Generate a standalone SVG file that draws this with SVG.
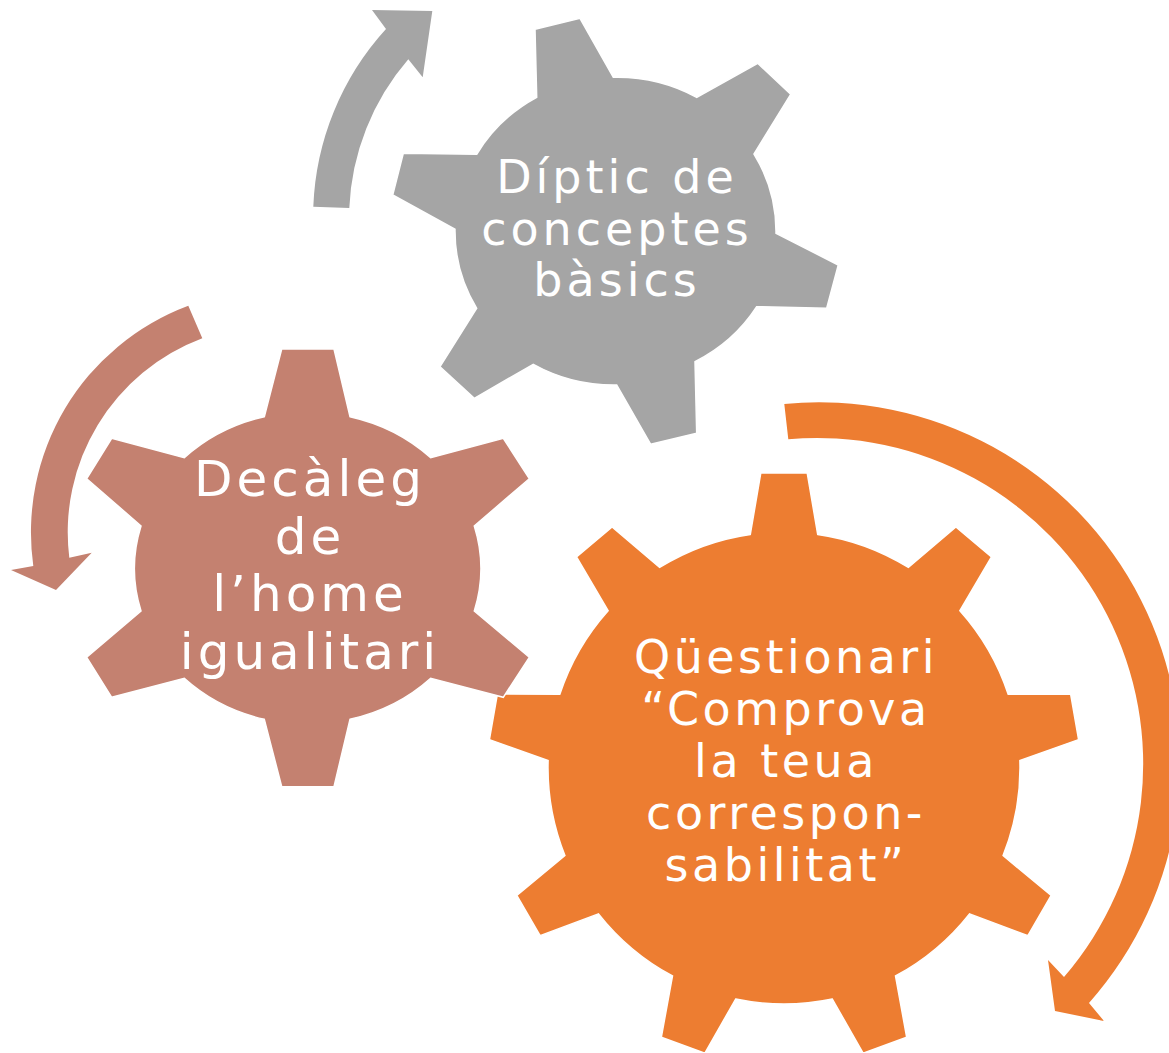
<svg xmlns="http://www.w3.org/2000/svg" width="1169" height="1053" viewBox="0 0 1169 1053">
<style>
.lbl{font-family:"DejaVu Sans","Liberation Sans",sans-serif;fill:#FFFFFF;text-anchor:middle;letter-spacing:3.5px}
.orange{fill:#ED7D31}
.brown{fill:#C48170}
.grey{fill:#A5A5A5}
.gear{stroke:#FFFFFF;stroke-width:1.5;stroke-linejoin:miter}
</style>
<rect width="1169" height="1053" fill="#FFFFFF"/>
<g id="gear-questionari">
<path class="orange gear" d="M 750.3,534.4 L 760.8,472.9 L 807.2,472.9 L 817.7,534.4 A 236 236 0 0 1 908.4,567.4 L 955.9,527.0 L 991.5,556.9 L 959.9,610.7 A 236 236 0 0 1 1008.2,694.3 L 1070.6,693.9 L 1078.6,739.6 L 1019.9,760.6 A 236 236 0 0 1 1003.1,855.6 L 1051.2,895.4 L 1027.9,935.7 L 969.5,913.9 A 236 236 0 0 1 895.5,976.0 L 906.7,1037.3 L 863.1,1053.2 L 832.3,999.0 A 236 236 0 0 1 735.7,999.0 L 704.9,1053.2 L 661.3,1037.3 L 672.5,976.0 A 236 236 0 0 1 598.5,913.9 L 540.1,935.7 L 516.8,895.4 L 564.9,855.6 A 236 236 0 0 1 548.1,760.6 L 489.4,739.6 L 497.4,693.9 L 559.8,694.3 A 236 236 0 0 1 608.1,610.7 L 576.5,556.9 L 612.1,527.0 L 659.6,567.4 A 236 236 0 0 1 750.3,534.4 Z"/>
<text class="lbl" font-size="46"><tspan x="786" y="673">Qüestionari</tspan><tspan x="786" y="725">“Comprova</tspan><tspan x="786" y="777">la teua</tspan><tspan x="786" y="829">correspon-</tspan><tspan x="786" y="881">sabilitat”</tspan></text>
</g>
<g id="gear-decaleg">
<path class="brown gear" d="M 264.3,416.7 L 281.7,349 L 334,349 L 350,416.7 A 173 156 0 0 1 430.7,457.7 L 503.3,438.3 L 529.3,478.7 L 474.3,526 A 173 156 0 0 1 474.3,611 L 529.3,657.3 L 503.3,697.3 L 430.7,678.3 A 173 156 0 0 1 350,719.3 L 334,786.7 L 281.7,786.7 L 264.3,719.3 A 173 156 0 0 1 184.3,678.3 L 111.7,697.3 L 86.7,657.3 L 141,611 A 173 156 0 0 1 141,526 L 86.7,478.7 L 111.7,438.3 L 184.3,457.7 A 173 156 0 0 1 264.3,416.7 Z"/>
<text class="lbl" font-size="50" style="letter-spacing:4px"><tspan x="310" y="496">Decàleg</tspan><tspan x="310" y="553.5">de</tspan><tspan x="310" y="611">l’home</tspan><tspan x="310" y="668.5">igualitari</tspan></text>
</g>
<g id="gear-diptic">
<path class="grey gear" d="M 536.7,97.3 L 535,29.3 L 580,18.3 L 613.3,77.3 A 161 154 0 0 1 696.7,97.3 L 757.7,63.3 L 790.7,94.3 L 754,154 A 161 154 0 0 1 776,233.3 L 838.3,265 L 826.7,308.3 L 756.7,306.7 A 161 154 0 0 1 695,361.7 L 696.7,433.3 L 650.7,444.3 L 616.7,385 A 161 154 0 0 1 533.3,364.3 L 474.3,398.3 L 440,366.7 L 476.7,308.3 A 161 154 0 0 1 455,229.3 L 392.7,195 L 403.3,153.3 L 476.7,154.3 A 161 154 0 0 1 536.7,97.3 Z"/>
<text class="lbl" font-size="46" style="letter-spacing:4px"><tspan x="617" y="193">Díptic de</tspan><tspan x="617" y="245">conceptes</tspan><tspan x="617" y="296">bàsics</tspan></text>
</g>
<g id="connectors">
<path id="arrow-grey" class="grey" d="M 313.3,206.7 A 279 279 0 0 1 386,29 L 372,10 L 432.3,11 L 422.7,77.3 L 408.3,59.3 A 243 243 0 0 0 349.3,208 Z"/>
<path id="arrow-brown" class="brown" d="M 188.3,305.7 A 242 242 0 0 0 33.3,566 L 11,570 L 56,590 L 91.7,552.7 L 69.3,557.7 A 207 207 0 0 1 202.3,338.3 Z"/>
<path id="arrow-orange" class="orange" d="M 784.3,404 A 361 361 0 0 1 1089,1003 L 1104,1021 L 1055,1011 L 1048,960 L 1064,977 A 326 326 0 0 0 788.3,439.3 Z"/>
</g>
</svg>
